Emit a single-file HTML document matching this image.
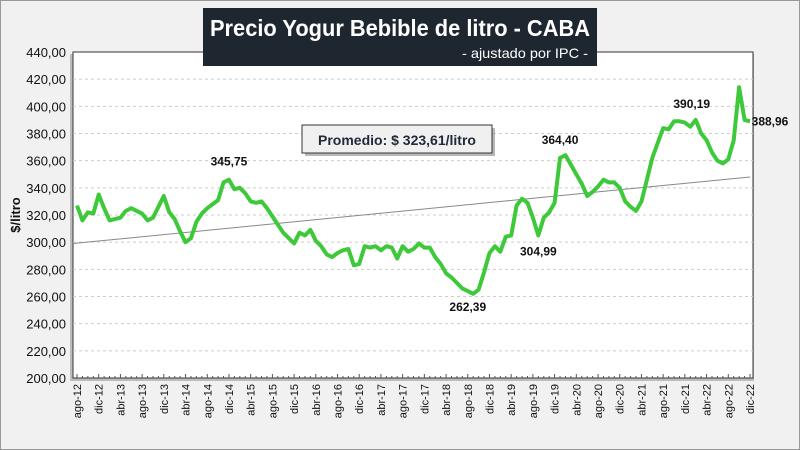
<!DOCTYPE html>
<html><head><meta charset="utf-8"><style>
body{margin:0;width:800px;height:450px;overflow:hidden;background:#f1f1f1;font-family:"Liberation Sans",sans-serif}
</style></head><body>
<svg width="800" height="450" style="position:absolute;left:0;top:0">
<rect x="0.5" y="0.5" width="799" height="449" fill="#f1f1f1" stroke="#999"/>
<rect x="70" y="54" width="684" height="327" fill="#999" opacity="0.6"/>
<rect x="73" y="52" width="680" height="326" fill="#fff" stroke="#333"/>
<g id="grid"></g>
<g id="yt"></g>
<g id="xt"></g>
<text transform="translate(20,215) rotate(-90)" text-anchor="middle" font-size="13" font-weight="bold" fill="#111">$/litro</text>
<line id="trend" stroke="#888" stroke-width="1"/>
<path id="line" fill="none" stroke="#3ec93a" stroke-width="4" stroke-linejoin="round"/>
<g id="labels"></g>
<rect x="203" y="8" width="394" height="58" fill="#1e2630"/>
<text x="210" y="36" textLength="380" lengthAdjust="spacingAndGlyphs" font-size="23" font-weight="bold" fill="#fff">Precio Yogur Bebible de litro - CABA</text>
<text x="588" y="58" text-anchor="end" font-size="14" textLength="126" lengthAdjust="spacingAndGlyphs" fill="#fff">- ajustado por IPC -</text>
<rect x="305" y="128" width="190" height="28" fill="#888" opacity="0.6"/>
<rect x="302" y="125" width="190" height="28" fill="#f0f0f0" stroke="#333"/>
<text x="397" y="145" text-anchor="middle" font-size="14" font-weight="bold" fill="#1e2a3a">Promedio: $ 323,61/litro</text>
</svg>
<script>
const values=[327,316,322,321,335,
325,316,317,318,323,325,323,321,316,318,326,334,
322,317,308,300,303,315,321,325,328,331,344,346,
339,340,336,330,329,330,325,319,313,307,303,299,
307,305,309,301,297,291,289,292,294,295,283,284,
297,296,297,294,297,296,288,297,293,295,299,296,
296,289,284,277,274,270,266,264,262,265,278,292,
297,293,304,305,327,332,329,318,305,318,322,329,
362,364,357,350,343,334,337,341,346,344,344,340,
330,326,323,330,346,362,373,384,383,389,389,388,
385,390,380,375,366,360,358,361,375,414,390,389];
const yTicks=[200,220,240,260,280,300,320,340,360,380,400,420,440];
const xLabels=["ago-12","dic-12","abr-13","ago-13","dic-13","abr-14","ago-14","dic-14","abr-15","ago-15","dic-15","abr-16","ago-16","dic-16","abr-17","ago-17","dic-17","abr-18","ago-18","dic-18","abr-19","ago-19","dic-19","abr-20","ago-20","dic-20","abr-21","ago-21","dic-21","abr-22","ago-22","dic-22"];
const trendVals=[299,348];
const annot=[[28,"345,75",0,-14],[72,"262,39",0,20],[85,"304,99",0,20],[89,"364,40",0,-14],[114,"390,19",-4,-12],[124,"388,96",20,4]];
const ns="http://www.w3.org/2000/svg";
const X0=77,X1=750,Y0=378,Y1=52;
const x=i=>X0+(X1-X0)*i/(values.length-1);
const y=v=>Y0-(v-200)/240*(Y0-Y1);
function mk(t,a,p){const e=document.createElementNS(ns,t);for(const k in a)e.setAttribute(k,a[k]);p.appendChild(e);return e;}
const g=document.getElementById('grid'),yt=document.getElementById('yt'),xt=document.getElementById('xt');
yTicks.forEach(v=>{
 if(v>200&&v<440){const l=mk('line',{x1:73,x2:753,y1:y(v),y2:y(v),stroke:'#ccc','stroke-dasharray':'3,3'},g);
 
 }
 const t=mk('text',{x:66,y:y(v)+5,'text-anchor':'end','font-size':13,fill:'#111'},yt);
 
 
 t.textContent=v.toFixed(2).replace('.',',');
});
for(let i=0;i<values.length;i++){const l=mk('line',{x1:x(i),x2:x(i),y1:378,y2:i%4==0?374:376,stroke:'#555'},xt);
 
 }
xLabels.forEach((s,k)=>{const xx=x(k*4);
 const t=mk('text',{transform:`translate(${xx+4},384) rotate(-90)`,'text-anchor':'end','font-size':11,fill:'#111'},xt);
 
 
 t.textContent=s;});
const tr=document.getElementById('trend');
tr.setAttribute('x1',73);tr.setAttribute('y1',y(trendVals[0]));tr.setAttribute('x2',X1);tr.setAttribute('y2',y(trendVals[1]));
document.getElementById('line').setAttribute('d',values.map((v,i)=>(i?'L':'M')+x(i).toFixed(1)+','+y(v).toFixed(1)).join(''));
const lg=document.getElementById('labels');
annot.forEach(a=>{const t=mk('text',{x:x(a[0])+a[2],y:y(values[a[0]])+a[3],'text-anchor':'middle','font-size':12,'font-weight':'bold',fill:'#111'},lg);
 
 
 t.textContent=a[1];});
</script>
</body></html>
